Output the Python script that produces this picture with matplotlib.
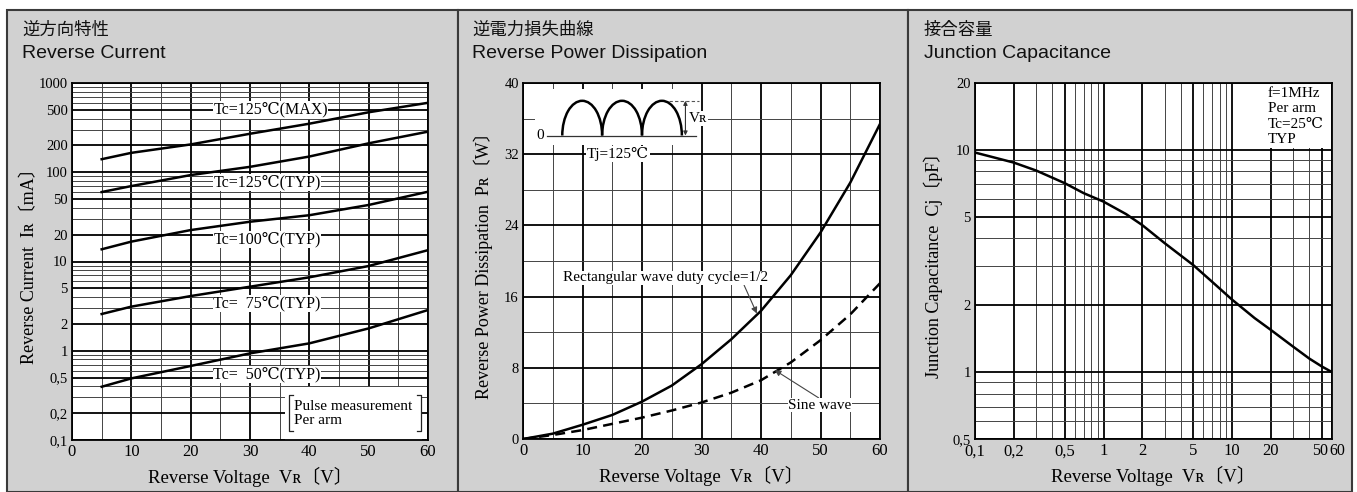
import numpy as np
import matplotlib
matplotlib.use('Agg')
import matplotlib.pyplot as plt
import matplotlib.transforms as mtrans
from matplotlib.patches import Rectangle, Arc

# ---- data ----
# Reverse current (mA) vs reverse voltage
vr_ir = [5, 10, 20, 30, 40, 50, 60]
ir_125max = [140, 165, 205, 270, 350, 470, 600]
ir_125typ = [60, 70, 93, 115, 150, 211, 285]
ir_100typ = [13.7, 16.7, 22.5, 27.9, 33, 43, 60.5]
ir_75typ = [2.58, 3.12, 4.1, 5.22, 6.65, 8.9, 13.4]
ir_50typ = [0.395, 0.49, 0.675, 0.935, 1.21, 1.78, 2.86]
ir_labels = ['Tc=125℃(MAX)', 'Tc=125℃(TYP)', 'Tc=100℃(TYP)', 'Tc=  75℃(TYP)', 'Tc=  50℃(TYP)']
ir_label_y = [500, 77, 17.7, 3.4, 0.54]

# Reverse power dissipation (W)
vr_pr = [0, 5, 10, 15, 20, 25, 30, 35, 40, 45, 50, 55, 60]
pr_rect = [0, 0.6, 1.6, 2.7, 4.2, 6.0, 8.4, 11.2, 14.4, 18.4, 23.2, 28.8, 35.4]
pr_sine = [0, 0.45, 1.0, 1.7, 2.4, 3.2, 4.1, 5.2, 6.6, 8.6, 11.1, 14.0, 17.5]

# Junction capacitance (pF)
vr_cj = [0.1, 0.2, 0.3, 0.5, 0.7, 1, 1.5, 2, 3, 5, 7, 10, 15, 20, 30, 40, 50, 60]
cj = [9.73, 8.77, 8.07, 7.08, 6.39, 5.85, 5.14, 4.59, 3.80, 3.03, 2.55, 2.12, 1.75,
      1.55, 1.30, 1.15, 1.06, 1.0]

serif = ['Liberation Serif', 'DejaVu Serif', 'Noto Sans CJK JP']
sans = ['Liberation Sans', 'Noto Sans CJK JP', 'DejaVu Sans']
jp = ['Noto Sans CJK JP', 'DejaVu Sans']

W, H = 1357, 492
fig = plt.figure(figsize=(W / 100, H / 100), dpi=100)
fig.patch.set_facecolor('white')

def fx(px):
    return px / W

def fy(py):
    return 1 - py / H

# panels
for x0, x1 in [(7, 458), (458, 908), (908, 1352)]:
    fig.add_artist(Rectangle((fx(x0), 0), fx(x1 - x0), fy(10), transform=fig.transFigure,
                             facecolor='#d1d1d1', edgecolor='#3a3a3a', lw=1.5, zorder=0))

titles = [('逆方向特性', 'Reverse Current', 22),
          ('逆電力損失曲線', 'Reverse Power Dissipation', 472),
          ('接合容量', 'Junction Capacitance', 924)]
for jt, et, px in titles:
    fig.text(fx(px), fy(30), jt, family=jp, fontsize=12.5, va='center', ha='left', color='#111')
    fig.text(fx(px), fy(54), et, family=sans, fontsize=14, va='center', ha='left', color='#111')

def style(ax):
    ax.set_facecolor('white')
    ax.tick_params(which='both', length=0, pad=3)
    ax.grid(which='major', color='black', lw=1.3, zorder=1)
    ax.grid(which='minor', color='#444', lw=0.7, zorder=1)
    for s in ax.spines.values():
        s.set_linewidth(1.3)
    ax.set_axisbelow(True)
    for lab in ax.get_xticklabels():
        lab.set_fontfamily(serif)
        lab.set_fontsize(12)
    for lab in ax.get_yticklabels():
        lab.set_fontfamily(serif)
        lab.set_fontsize(10.5)

def labels(ax, ytext, ypos):
    ax.set_xlabel('Reverse Voltage  Vʀ〔V〕', family=serif, fontsize=13.5, va='center')
    ax.xaxis.set_label_coords(0.5, (440 - 477) / 357)
    ax.set_ylabel(ytext, family=serif, fontsize=13, va='center')
    ax.yaxis.set_label_coords(ypos, 0.5)

# ---- left: reverse current ----
ax1 = fig.add_axes([fx(72), fy(440), fx(356), 357 / H])
ax1.set_yscale('log')
ax1.set_xlim(0, 60)
ax1.set_ylim(0.1, 1000)
yt = [0.1, 0.2, 0.5, 1, 2, 5, 10, 20, 50, 100, 200, 500, 1000]
ax1.set_yticks(yt, ['0,1', '0,2', '0,5', '1', '2', '5', '10', '20', '50', '100', '200', '500', '1000'])
ax1.set_yticks([d * k for d in [0.1, 1, 10, 100] for k in [3, 4, 6, 7, 8, 9]], minor=True)
ax1.yaxis.set_minor_formatter(plt.NullFormatter())
ax1.set_xticks(range(0, 61, 10))
ax1.set_xticks(range(5, 60, 10), minor=True)
style(ax1)
for ys in [ir_125max, ir_125typ, ir_100typ, ir_75typ, ir_50typ]:
    ax1.plot(vr_ir, ys, color='black', lw=1.8, zorder=4)
for lab, yv in zip(ir_labels, ir_label_y):
    ax1.text(23.8, yv, lab, family=serif, fontsize=11.5, ha='left', va='center', zorder=3,
             bbox=dict(facecolor='white', edgecolor='none', pad=0.5))
ax1.add_patch(Rectangle((0.598, 0.0), 0.385, 0.148, transform=ax1.transAxes,
                        facecolor='white', edgecolor='none', zorder=2))
ax1.text(0.625, 0.074, 'Pulse measurement\nPer arm', transform=ax1.transAxes, family=serif,
         fontsize=11, ha='left', va='center', linespacing=1.15, zorder=3)
for xb, d in [(0.61, 1), (0.98, -1)]:
    ax1.plot([xb + d * 0.012, xb, xb, xb + d * 0.012], [0.126, 0.126, 0.024, 0.024],
             transform=ax1.transAxes, color='#222', lw=0.9, zorder=3)
labels(ax1, 'Reverse Current  Iʀ〔mA〕', (30 - 72) / 356)

# ---- middle: reverse power dissipation ----
ax2 = fig.add_axes([fx(523), fy(439), fx(357), 356 / H])
ax2.set_xlim(0, 60)
ax2.set_ylim(0, 40)
ax2.set_yticks(range(0, 41, 8))
ax2.set_yticks(range(4, 40, 8), minor=True)
ax2.set_xticks(range(0, 61, 10))
ax2.set_xticks(range(5, 60, 10), minor=True)
style(ax2)
ax2.plot(vr_pr, pr_rect, color='black', lw=1.8, zorder=4)
ax2.plot(vr_pr, pr_sine, color='black', lw=1.8, ls=(0, (4, 2.5)), zorder=4)
ax2.annotate('Rectangular wave duty cycle=1/2', xy=(39.3, 14.1), xytext=(24, 18.1),
             family=serif, fontsize=11, ha='center', va='center', zorder=5,
             bbox=dict(facecolor='white', edgecolor='none', pad=0.5),
             arrowprops=dict(arrowstyle='-|>', color='#444', lw=0.8, mutation_scale=9,
                             shrinkA=0, shrinkB=0, relpos=(0.88, 0.0)))
ax2.annotate('Sine wave', xy=(42.3, 7.75), xytext=(49.9, 3.8),
             family=serif, fontsize=11, ha='center', va='center', zorder=5,
             bbox=dict(facecolor='white', edgecolor='none', pad=0.5),
             arrowprops=dict(arrowstyle='-|>', color='#444', lw=0.8, mutation_scale=9,
                             shrinkA=0, shrinkB=0, relpos=(0.5, 1.0)))
# inset waveform sketch
ax2.add_patch(Rectangle((0.034, 0.826), 0.462, 0.156, transform=ax2.transAxes,
                        facecolor='white', edgecolor='none', zorder=2))
base, peak = 34.1, 38.0
for cx in [9.95, 16.65, 23.35]:
    ax2.add_patch(Arc((cx, base), 6.7, 2 * (peak - base), theta1=0, theta2=180,
                      color='black', lw=1.8, zorder=4))
ax2.plot([4.0, 29.0], [base, base], color='#333', lw=0.9, zorder=3)
ax2.plot([24.5, 29.5], [peak, peak], color='#555', lw=0.8, ls=(0, (3, 2)), zorder=3)
ax2.annotate('', xy=(27.3, peak), xytext=(27.3, base),
             arrowprops=dict(arrowstyle='<|-|>', color='#333', lw=0.8, mutation_scale=6,
                             shrinkA=0, shrinkB=0), zorder=3)
ax2.text(3.6, base, '0', family=serif, fontsize=11, ha='right', va='center', zorder=3)
ax2.text(27.8, 36.0, 'Vʀ', family=serif, fontsize=11, ha='left',
         va='center', zorder=3, bbox=dict(facecolor='white', edgecolor='none', pad=0.5))
ax2.text(16.0, 32.0, 'Tj=125℃', family=serif, fontsize=11, ha='center', va='center', zorder=3,
         bbox=dict(facecolor='white', edgecolor='none', pad=0.5))
labels(ax2, 'Reverse Power Dissipation  Pʀ〔W〕', (483 - 523) / 357)

# ---- right: junction capacitance ----
ax3 = fig.add_axes([fx(975), fy(439), fx(357), 356 / H])
ax3.set_xscale('log')
ax3.set_yscale('log')
ax3.set_xlim(0.1, 60)
ax3.set_ylim(0.5, 20)
xt = [0.1, 0.2, 0.5, 1, 2, 5, 10, 20, 50, 60]
ax3.set_xticks(xt, ['0,1', '0,2', '0,5', '1', '2', '5', '10', '20', '50', '60'])
ax3.set_xticks([0.3, 0.4, 0.6, 0.7, 0.8, 0.9, 3, 4, 6, 7, 8, 9, 30, 40], minor=True)
ax3.set_yticks([0.5, 1, 2, 5, 10, 20], ['0,5', '1', '2', '5', '10', '20'])
ax3.set_yticks([0.6, 0.7, 0.8, 0.9, 3, 4, 6, 7, 8, 9], minor=True)
ax3.xaxis.set_minor_formatter(plt.NullFormatter())
ax3.yaxis.set_minor_formatter(plt.NullFormatter())
style(ax3)
# nudge the crowded 50 / 60 labels apart like the original
xl = ax3.get_xticklabels()
xl[-1].set_transform(xl[-1].get_transform() + mtrans.ScaledTranslation(5 / 100, 0, fig.dpi_scale_trans))
xl[-2].set_transform(xl[-2].get_transform() + mtrans.ScaledTranslation(-2 / 100, 0, fig.dpi_scale_trans))
for lab in xl[-2:]:
    lab.set_fontsize(11.5)
ax3.plot(vr_cj, cj, color='black', lw=1.8, zorder=4)
ax3.text((1268 - 975) / 357, 0.99, 'f=1MHz\nPer arm\nTc=25℃\nTYP', transform=ax3.transAxes,
         family=serif, fontsize=11, ha='left', va='top', linespacing=1.25, zorder=3,
         bbox=dict(facecolor='white', edgecolor='none', pad=1.5))
labels(ax3, 'Junction Capacitance  Cj〔pF〕', (933 - 975) / 357)

fig.savefig('out.png', dpi=100)
